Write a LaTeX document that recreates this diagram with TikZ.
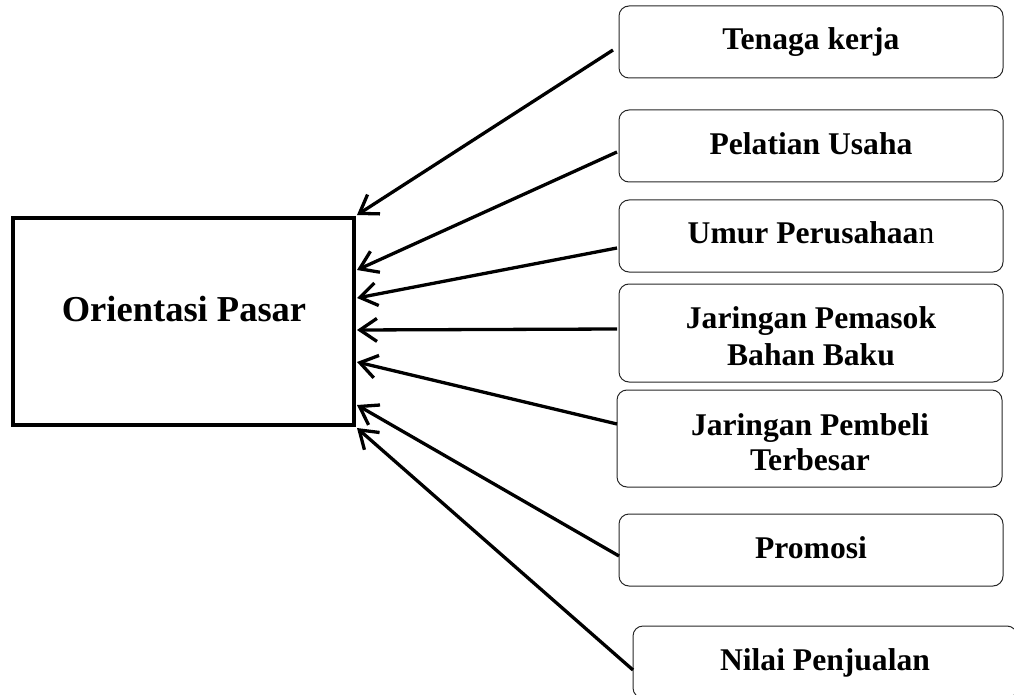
\documentclass[tikz,border=0pt]{standalone}
\usepackage{fontspec}
\setmainfont{Liberation Serif}
\usetikzlibrary{arrows.meta}
\begin{document}
\begin{tikzpicture}[x=1pt,y=-1pt,
  mainbox/.style={draw=black, line width=4.5pt, minimum width=341pt, minimum height=207pt, inner sep=0pt, outer sep=0pt},
  factor/.style={draw=black!85, line width=1pt, rounded corners=10pt, minimum width=384pt, minimum height=72pt, inner sep=0pt, outer sep=0pt},
  lbl/.style={anchor=base, inner sep=0pt, font=\fontsize{31.6}{36}\selectfont\bfseries},
  biglbl/.style={anchor=base, inner sep=0pt, font=\fontsize{36.5}{42}\selectfont\bfseries},
  conn/.style={line width=3.3pt, -{Straight Barb[length=17pt, width=23pt, line width=3.3pt]}}
]
\useasboundingbox (0,0) rectangle (1014,695);

% main box
\node[mainbox] (main) at (183.5,321.5) {};
\node[biglbl] (maintext) at (184,321) {Orientasi Pasar};

% factor boxes
\node[factor] (b1) at (811,42) {};
\node[factor] (b2) at (811,146) {};
\node[factor] (b3) at (811,236) {};
\node[factor, minimum height=98pt] (b4) at (811,333) {};
\node[factor, minimum width=385pt, minimum height=97pt] (b5) at (809.5,438.5) {};
\node[factor] (b6) at (811,550) {};
\node[factor] (b7) at (825,662) {};

% labels
\node[lbl] (l1) at (811,50) {Tenaga kerja};
\node[lbl] (l2) at (811,155) {Pelatian Usaha};
\node[lbl] (l3) at (811,243) {Umur Perusahaa\mdseries n};
\node[lbl] (l4a) at (811,328) {Jaringan Pemasok};
\node[lbl] (l4b) at (811,365) {Bahan Baku};
\node[lbl] (l5a) at (810,435) {Jaringan Pembeli};
\node[lbl] (l5b) at (810,470) {Terbesar};
\node[lbl] (l6) at (811,558) {Promosi};
\node[lbl] (l7) at (825,670) {Nilai Penjualan};

% target points on main box
\coordinate (t1) at ([xshift=3pt,yshift=3pt]main.north east);
\coordinate (t2) at ([xshift=3pt,yshift=-52pt]main.north east);
\coordinate (t3) at ([xshift=3pt,yshift=-80pt]main.north east);
\coordinate (t4) at ([xshift=3pt,yshift=-112pt]main.north east);
\coordinate (t5) at ([xshift=3pt,yshift=-144pt]main.north east);
\coordinate (t6) at ([xshift=3pt,yshift=-187pt]main.north east);
\coordinate (t7) at ([xshift=3pt,yshift=-210pt]main.north east);

% connectors
\draw[conn] ([xshift=-6pt,yshift=-8pt]b1.west) -- (t1);
\draw[conn] ([xshift=-2pt,yshift=-6pt]b2.west) -- (t2);
\draw[conn] ([xshift=-2pt,yshift=-12pt]b3.west) -- (t3);
\draw[conn] ([xshift=-2pt,yshift=4pt]b4.west) -- (t4);
\draw[conn] ([yshift=14.5pt]b5.west) -- (t5);
\draw[conn] ([yshift=-6pt]b6.west) -- (t6);
\draw[conn] ([yshift=-8pt]b7.west) -- (t7);
\end{tikzpicture}
\end{document}
